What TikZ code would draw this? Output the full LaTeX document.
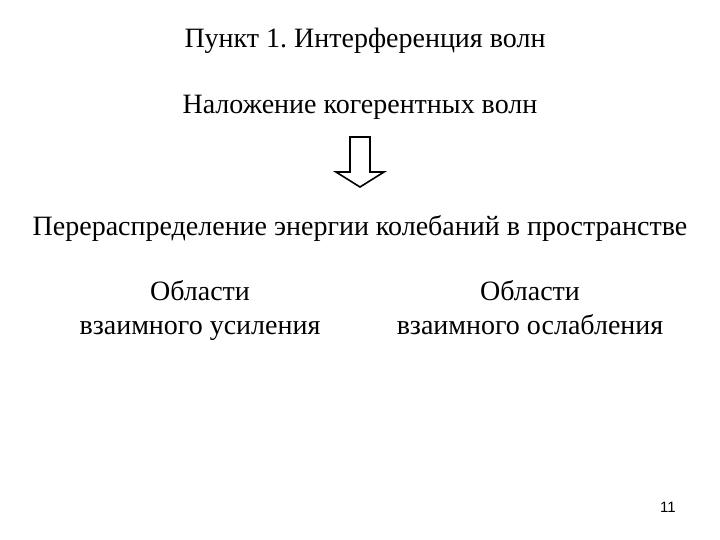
\documentclass[tikz,border=0pt]{standalone}
\usepackage{fontspec}
\setmainfont{Liberation Serif}
\newfontfamily\numfont{Liberation Sans}
\frenchspacing
\begin{document}
\begin{tikzpicture}[x=1pt,y=-1pt,
  txt/.style={font=\fontsize{28}{32}\selectfont, inner sep=0pt, anchor=base},
  blockarrow/.style={draw=black, line width=1.6pt, fill=white, line join=miter}]
\useasboundingbox (0,0) rectangle (720,540);
\node[txt] (title) at (365,48) {Пункт 1. Интерференция волн};
\node[txt] (sup) at (360,114) {Наложение когерентных волн};
\draw[blockarrow] (350,137) -- (370,137) -- (370,172) -- (384,172) -- (360,187) -- (336,172) -- (350,172) -- cycle;
\node[txt] (redist) at (360,236) {Перераспределение энергии колебаний в пространстве};
\node[txt] (l1) at (200,300) {Области};
\node[txt] (l2) at (200,334) {взаимного усиления};
\node[txt] (r1) at (530,300) {Области};
\node[txt] (r2) at (530,334) {взаимного ослабления};
\node[font=\numfont\fontsize{15}{17}\selectfont, inner sep=0pt, anchor=base] (pg) at (668,512) {11};
\end{tikzpicture}
\end{document}
